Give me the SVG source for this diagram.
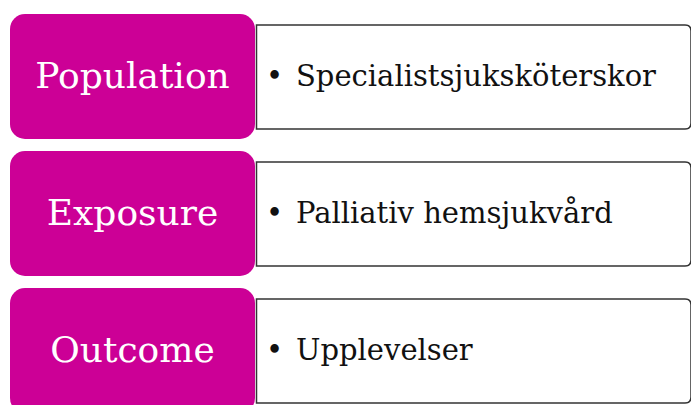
<svg xmlns="http://www.w3.org/2000/svg" width="691" height="405" viewBox="0 0 691 405">
<style>
.lbl{fill:#CC0096;}
.lt{font-family:"DejaVu Serif","Liberation Serif",serif;font-size:36px;fill:#fff;text-anchor:middle;}
.box{fill:#fff;stroke:#333;stroke-width:1.5;}
.bt{font-family:"DejaVu Serif","Liberation Serif",serif;font-size:29px;fill:#111;}
</style>
<rect width="691" height="405" fill="#fff"/>
<g id="population">
<path class="box" d="M256.5 25 H685 Q691 25 691 31 V123 Q691 129 685 129 H256.5 Z"/>
<rect class="lbl" x="10" y="14" width="245" height="125" rx="15"/>
<text class="lt" x="132.5" y="88">Population</text>
<text class="bt" x="266" y="86">•</text>
<text class="bt" x="296" y="86">Specialistsjuksköterskor</text>
</g>
<g id="exposure">
<path class="box" d="M256.5 162 H685 Q691 162 691 168 V260 Q691 266 685 266 H256.5 Z"/>
<rect class="lbl" x="10" y="151" width="245" height="125" rx="15"/>
<text class="lt" x="132.5" y="225">Exposure</text>
<text class="bt" x="266" y="223">•</text>
<text class="bt" x="296" y="223">Palliativ hemsjukvård</text>
</g>
<g id="outcome">
<path class="box" d="M256.5 299 H685 Q691 299 691 305 V397 Q691 403 685 403 H256.5 Z"/>
<rect class="lbl" x="10" y="288" width="245" height="125" rx="15"/>
<text class="lt" x="132.5" y="362">Outcome</text>
<text class="bt" x="266" y="360">•</text>
<text class="bt" x="296" y="360">Upplevelser</text>
</g>
<g id="connectors"/>
</svg>
